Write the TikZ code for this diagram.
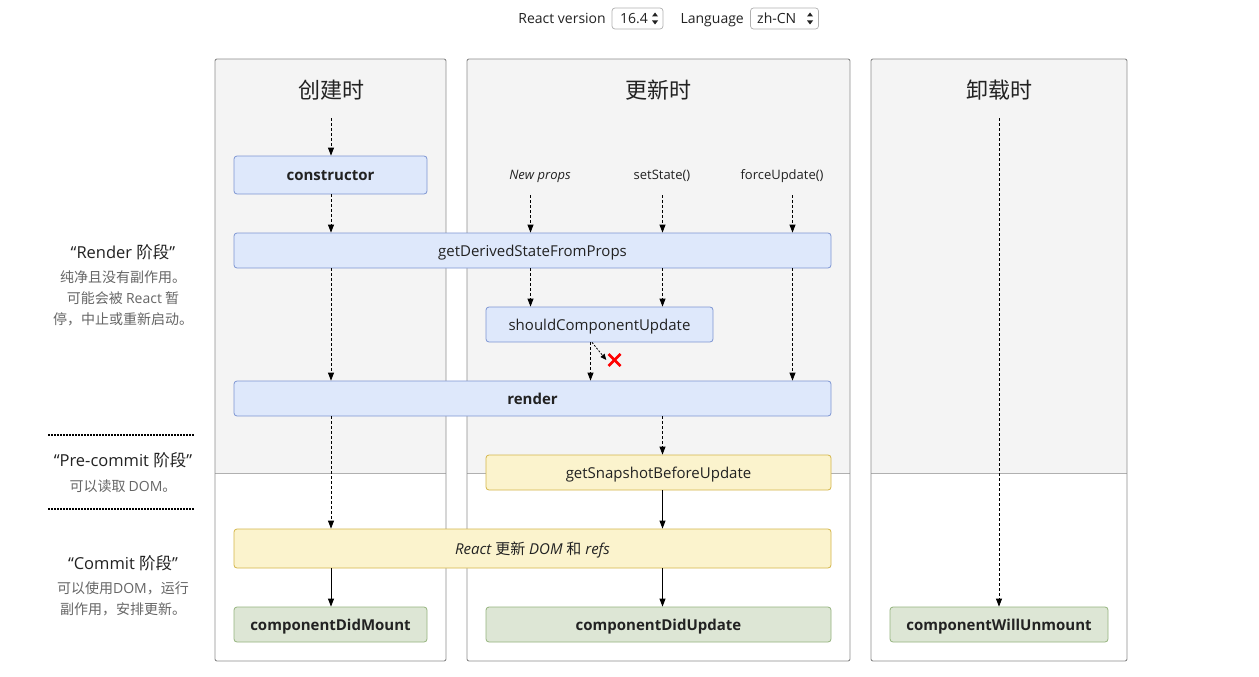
\documentclass[tikz,border=0pt]{standalone}
\usepackage{fontspec}
\setmainfont{Open Sans}
\newfontfamily\cjk{Noto Sans CJK SC}
\usetikzlibrary{arrows.meta,calc}
\definecolor{panelgray}{HTML}{F4F4F4}
\definecolor{panelline}{HTML}{8C8C8C}
\definecolor{sepline}{HTML}{B0B0B0}
\definecolor{bluefill}{HTML}{DEE8FB}
\definecolor{blueline}{HTML}{7D95D2}
\definecolor{yelfill}{HTML}{FBF3CD}
\definecolor{yelline}{HTML}{D4B64A}
\definecolor{grnfill}{HTML}{DDE6D5}
\definecolor{grnline}{HTML}{95B47E}
\definecolor{txt}{HTML}{222222}
\definecolor{subtxt}{HTML}{666666}
\tikzset{
  box/.style={draw, line width=0.8pt, rounded corners=3pt, inner sep=0pt, text=txt, text height=13pt, text depth=2pt, font=\fontsize{15}{18}\selectfont},
  bluebox/.style={box, fill=bluefill, draw=blueline},
  yelbox/.style={box, fill=yelfill, draw=yelline},
  grnbox/.style={box, fill=grnfill, draw=grnline},
  dasharrow/.style={draw=black, line width=0.8pt, dash pattern=on 3pt off 2pt, -{Triangle[length=8pt,width=6pt]}},
  solarrow/.style={draw=black, line width=0.9pt, -{Triangle[length=8pt,width=6pt]}},
  header/.style={font=\cjk\fontsize{22}{26}\selectfont, text=txt},
  trig/.style={font=\fontsize{13}{16}\selectfont, text=txt},
  phase/.style={font=\fontsize{16.5}{18}\selectfont, text=txt, align=center},
  phasesub/.style={font=\cjk\fontsize{14}{21}\selectfont, text=subtxt, align=center},
  sel/.style={draw=sepline, rounded corners=3pt, line width=0.7pt, inner sep=0pt},
  bartext/.style={font=\fontsize{14}{16}\selectfont, text=txt, inner sep=0pt, text height=10pt, text depth=0pt},
  dotsep/.style={line width=1.6pt, dash pattern=on 1.5pt off 1.5pt, draw=black},
  panel/.style={draw=panelline, line width=0.9pt, rounded corners=2pt},
}
\begin{document}
\begin{tikzpicture}[x=1pt,y=-1pt]
\useasboundingbox (0,0) rectangle (1259,677);
\fill[white] (0,0) rectangle (1259,677);

% top bar
\node[bartext, anchor=east] (rv) at (606,18.5) {React version};
\node[sel, minimum width=51pt, minimum height=21pt] (verbox) at (637.5,18.5) {};
\node[bartext, anchor=west] (vertxt) at (620,18.5) {16.4};
\fill[txt] (655,12.5) -- (658,16.5) -- (652,16.5) -- cycle;
\fill[txt] (655,24.5) -- (658,20.5) -- (652,20.5) -- cycle;
\node[bartext, anchor=east] (lang) at (744,18.5) {Language};
\node[sel, minimum width=68pt, minimum height=21pt] (langbox) at (784.5,18.5) {};
\node[bartext, anchor=west] (langtxt) at (757,18.5) {zh-CN};
\fill[txt] (810,12.5) -- (813,16.5) -- (807,16.5) -- cycle;
\fill[txt] (810,24.5) -- (813,20.5) -- (807,20.5) -- cycle;

% panels
\fill[panelgray] (215,59) rectangle (446,473);
\fill[panelgray] (467,59) rectangle (850,473);
\fill[panelgray] (871,59) rectangle (1127,473);
\draw[sepline, line width=0.8pt] (215,473) -- (446,473);
\draw[sepline, line width=0.8pt] (467,473) -- (850,473);
\draw[sepline, line width=0.8pt] (871,473) -- (1127,473);
\draw[panel] (215,59) rectangle (446,661);
\draw[panel] (467,59) rectangle (850,661);
\draw[panel] (871,59) rectangle (1127,661);

% headers
\node[header] (h1) at (331,90) {创建时};
\node[header] (h2) at (658,90) {更新时};
\node[header] (h3) at (999,90) {卸载时};
\coordinate (s1) at (331,118);
\coordinate (s3) at (999,118);

% left phase labels
\node[phase] (prender) at (123,252) {“Render {\cjk 阶段}”};
\node[phasesub, anchor=north] (prsub) at (123,267) {纯净且没有副作用。\\可能会被 {\fontspec{Open Sans}React} 暂\\停，中止或重新启动。};
\draw[dotsep] (48,435) -- (195,435);
\node[phase] (ppre) at (123,460) {“Pre-commit {\cjk 阶段}”};
\node[phasesub] (ppresub) at (123,486) {可以读取 {\fontspec{Open Sans}DOM}。};
\draw[dotsep] (48,509) -- (195,509);
\node[phase] (pcom) at (123,563) {“Commit {\cjk 阶段}”};
\node[phasesub, anchor=north] (pcomsub) at (123,578) {可以使用{\fontspec{Open Sans}DOM}，运行\\副作用，安排更新。};

% boxes
\node[bluebox, minimum width=193pt, minimum height=38pt, font=\bfseries\fontsize{15}{18}\selectfont] (ctor) at (330.5,175) {constructor};
\node[bluebox, minimum width=597pt, minimum height=35pt] (gdsfp) at (532.5,250.5) {getDerivedStateFromProps};
\node[bluebox, minimum width=227pt, minimum height=35pt] (scu) at (599.5,324.5) {shouldComponentUpdate};
\node[bluebox, minimum width=597pt, minimum height=35pt, font=\bfseries\fontsize{15}{18}\selectfont] (render) at (532.5,398.5) {render};
\node[yelbox, minimum width=345pt, minimum height=35pt] (gsbu) at (658.5,472.5) {getSnapshotBeforeUpdate};
\node[yelbox, minimum width=597pt, minimum height=39pt, font=\itshape\fontsize{15}{18}\selectfont] (rdom) at (532.5,548.5) {React {\cjk\upshape 更新} DOM {\cjk\upshape 和} refs};
\node[grnbox, minimum width=193pt, minimum height=35pt, font=\bfseries\fontsize{15}{18}\selectfont] (cdm) at (330.5,624.5) {componentDidMount};
\node[grnbox, minimum width=345pt, minimum height=35pt, font=\bfseries\fontsize{15}{18}\selectfont] (cdu) at (658.5,624.5) {componentDidUpdate};
\node[grnbox, minimum width=218pt, minimum height=35pt, font=\bfseries\fontsize{15}{18}\selectfont] (cwu) at (999,624.5) {componentWillUnmount};

% triggers
\node[trig, font=\itshape\fontsize{13}{16}\selectfont] (np) at (540,176) {New props};
\node[trig] (ss) at (662,176) {setState()};
\node[trig] (fu) at (782,176) {forceUpdate()};

% red X
\node[inner sep=0pt, minimum size=16pt] (nox) at (614.5,360) {};
\draw[red, line width=2.6pt] ($(nox.center)+(-6,-6)$) -- ($(nox.center)+(6,6)$);
\draw[red, line width=2.6pt] ($(nox.center)+(-6,6)$) -- ($(nox.center)+(6,-6)$);

% x positions
\coordinate (xc) at (331,0);
\coordinate (xnp) at (530.5,0);
\coordinate (xss) at (662.5,0);
\coordinate (xfu) at (792.5,0);
\coordinate (xr) at (590.5,0);
\coordinate (xd) at (592,0);
\coordinate (ytrig) at (0,195);

% arrows creation column
\draw[dasharrow] (s1) -- (ctor.north -| xc);
\draw[dasharrow] (ctor.south -| xc) -- (gdsfp.north -| xc);
\draw[dasharrow] (gdsfp.south -| xc) -- (render.north -| xc);
\draw[dasharrow] (render.south -| xc) -- (rdom.north -| xc);
\draw[solarrow] (rdom.south -| xc) -- (cdm.north -| xc);

% update column
\draw[dasharrow] (ytrig -| xnp) -- (gdsfp.north -| xnp);
\draw[dasharrow] (ytrig -| xss) -- (gdsfp.north -| xss);
\draw[dasharrow] (ytrig -| xfu) -- (gdsfp.north -| xfu);
\draw[dasharrow] (gdsfp.south -| xnp) -- (scu.north -| xnp);
\draw[dasharrow] (gdsfp.south -| xss) -- (scu.north -| xss);
\draw[dasharrow] (gdsfp.south -| xfu) -- (render.north -| xfu);
\draw[dasharrow] (scu.south -| xr) -- (render.north -| xr);
\draw[line width=0.8pt, dash pattern=on 2pt off 1.5pt, -{Triangle[length=6pt,width=5pt]}] (scu.south -| xd) -- (nox.west);
\draw[dasharrow] (render.south -| xss) -- (gsbu.north -| xss);
\draw[solarrow] (gsbu.south -| xss) -- (rdom.north -| xss);
\draw[solarrow] (rdom.south -| xss) -- (cdu.north -| xss);

% unmount column
\draw[dasharrow] (s3) -- (cwu.north);
\end{tikzpicture}
\end{document}
